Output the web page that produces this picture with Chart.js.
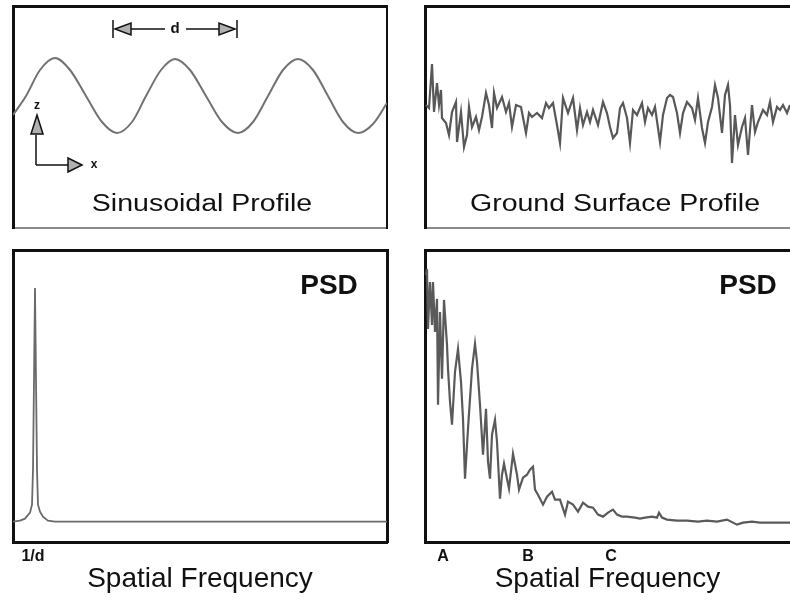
<!DOCTYPE html>
<html>
<head>
<meta charset="utf-8">
<script src="https://cdn.jsdelivr.net/npm/chart.js@4"></script>
<style>
  body { margin: 0; background: #fff; }
  #wrap { position: relative; width: 790px; height: 600px; overflow: hidden;
          font-family: "Liberation Sans", Arial, sans-serif; }
  #wrap canvas { position: absolute; left: 0; top: 0; }
  .lbl { position: absolute; white-space: nowrap; color: #111; line-height: 1; }
  .ttl { font-size: 23px; transform: translateX(-50%) scaleX(1.24); }
  .psd { font-size: 28px; font-weight: bold; transform: translateX(-50%); }
</style>
</head>
<body>
<div id="wrap">
  <canvas id="sine" width="790" height="600"></canvas>
  <canvas id="rough" width="790" height="600"></canvas>
  <canvas id="sinePsd" width="790" height="600"></canvas>
  <canvas id="roughPsd" width="790" height="600"></canvas>
  <div class="lbl ttl" style="left:202px;top:192px">Sinusoidal Profile</div>
  <div class="lbl ttl" style="left:615px;top:192px">Ground Surface Profile</div>
  <div class="lbl psd" style="left:329px;top:271px">PSD</div>
  <div class="lbl psd" style="left:748px;top:271px">PSD</div>
</div>
<script>
// sinusoidal profile: distance along x, height z about the mean line
const sineX = [0, 13, 27, 42, 57, 73, 89, 104, 119, 133, 148, 162, 177, 193, 209, 225, 240, 255, 270, 285, 300, 315, 330, 345, 360, 374];
const sineZ = [-19, 0, 26, 38, 26, 0, -26, -37, -26, 0, 26, 37, 26, 0, -26, -37, -26, 0, 26, 37, 26, 0, -26, -37, -28, -7];

// ground surface profile
const roughX = [1, 4, 7, 9, 12, 14, 16, 17, 21, 24, 27, 31, 32, 36, 39, 42, 44, 47, 51, 54, 57, 61, 64, 67, 69, 72, 77, 81, 84, 87, 91, 96, 101, 104, 107, 112, 117, 121, 124,
  128, 132, 135, 138, 143, 148, 152, 155, 158, 162, 165, 168, 173, 178, 182, 185, 188, 192, 195, 198, 202, 205, 208, 212, 217, 220, 223, 227, 230, 235, 238, 242, 245,
  248, 252, 255, 258, 262, 267, 270, 273, 277, 280, 283, 287, 290, 293, 297, 300, 303, 305, 307, 310, 313, 317, 320, 323, 327, 330, 333, 338, 342, 345, 348, 352, 355, 358, 362, 365];
const roughZ = [5, 2, 46, -2, 27, 5, 20, -8, -13, -25, -2, 8, -32, -2, -37, -25, 3, -17, -7, -20, -7, 17, 5, -18, 17, 2, 13, -2, 7, -17, 5, 3, -23, -3, -7, -3, -8, 7, 2,
  7, -15, -33, 12, -3, 12, -20, 2, -15, -2, -12, 0, -15, 8, -3, -17, -28, -23, 2, 7, -8, -33, 0, -5, 7, -12, 2, -5, 3, -32, -5, 12, 15,
  13, -3, -23, -3, 8, 2, -10, 12, -18, -33, -12, 3, 25, 12, -23, 15, 25, 5, -53, -5, -35, -17, -8, -45, 5, -22, -12, 0, -5, 8, -12, 3, 0, 5, -3, 5];

// PSD of the sinusoid: spatial frequency vs power
const sinePsdX = [0, 7, 12, 17, 19, 20, 21, 22, 23, 24, 25, 27, 30, 35, 42, 374];
const sinePsdY = [21, 22, 24, 30, 38, 73, 163, 255, 163, 73, 38, 31, 26, 22, 21, 21];
const sinePsdTicks = [20];
const sinePsdTickLabels = ['1/d'];

// PSD of the ground surface
const roughPsdX = [1, 2, 3, 5, 7, 8, 10, 12, 13, 15, 17, 19, 22, 23, 25, 27, 30, 33, 36, 38, 40, 43, 47, 50, 52, 55, 58, 61, 63, 65, 67, 70, 72, 75, 77, 79, 82, 84,
  88, 92, 94, 95, 98, 102, 105, 108, 110, 113, 118, 122, 127, 130, 135, 140, 143, 148, 153, 158, 163, 168, 173, 178, 183, 188, 192, 197, 202,
  210, 215, 220, 227, 232, 234, 237, 242, 252, 262, 273, 282, 292, 302, 312, 318, 327, 335, 365];
const roughPsdY = [268, 274, 214, 261, 218, 261, 211, 244, 138, 231, 164, 243, 198, 174, 141, 118, 171, 194, 161, 124, 64, 114, 174, 199, 181, 138, 88, 134, 81, 64, 108, 123, 101, 44, 68, 79, 64, 54,
  89, 68, 53, 56, 65, 68, 73, 76, 53, 48, 38, 46, 51, 43, 43, 28, 41, 38, 31, 40, 36, 35, 28, 26, 30, 33, 28, 26, 26,
  25, 24, 25, 26, 25, 30, 25, 23, 22, 22, 21, 22, 21, 23, 18, 20, 21, 20, 20];
const roughPsdTicks = [18, 103, 186];
const roughPsdTickLabels = ['A', 'B', 'C'];

// dimension arrow "d" and the z/x axis glyph on the sinusoid panel
const dimFrom = 100, dimTo = 224, dimLevel = 67;
const glyphX = 23, glyphZ = -69;

const FONT = '"Liberation Sans", Arial, sans-serif';
Chart.defaults.font.family = FONT;
Chart.defaults.animation = false;

function pts(xs, ys) {
  return xs.map((v, i) => ({ x: v, y: ys[i] }));
}

function edge(color, width, pos, extra) {
  return Object.assign({
    type: 'linear', position: pos,
    grid: { display: false, drawTicks: false },
    ticks: { display: false },
    border: { display: width > 0, color: color, width: width || 1 }
  }, extra || {});
}

function arrowHead(ctx, tx, ty, dir, len, half) {
  ctx.beginPath();
  if (dir === 'left') { ctx.moveTo(tx, ty); ctx.lineTo(tx + len, ty - half); ctx.lineTo(tx + len, ty + half); }
  if (dir === 'right') { ctx.moveTo(tx, ty); ctx.lineTo(tx - len, ty - half); ctx.lineTo(tx - len, ty + half); }
  if (dir === 'up') { ctx.moveTo(tx, ty); ctx.lineTo(tx - half, ty + len); ctx.lineTo(tx + half, ty + len); }
  ctx.closePath();
  ctx.fill();
  ctx.stroke();
}

const profileMarks = {
  id: 'profileMarks',
  afterDatasetsDraw(chart) {
    const { ctx, scales: { x, y } } = chart;
    ctx.save();
    ctx.strokeStyle = '#111';
    ctx.fillStyle = '#b0b0b0';
    ctx.lineWidth = 1.5;
    // d
    const yd = y.getPixelForValue(dimLevel);
    const xa = x.getPixelForValue(dimFrom), xb = x.getPixelForValue(dimTo);
    const xm = (xa + xb) / 2;
    ctx.beginPath();
    ctx.moveTo(xa, yd - 9); ctx.lineTo(xa, yd + 9);
    ctx.moveTo(xb, yd - 9); ctx.lineTo(xb, yd + 9);
    ctx.moveTo(xa + 18, yd); ctx.lineTo(xm - 10, yd);
    ctx.moveTo(xm + 11, yd); ctx.lineTo(xb - 18, yd);
    ctx.stroke();
    arrowHead(ctx, xa + 2, yd, 'left', 16, 6);
    arrowHead(ctx, xb - 2, yd, 'right', 16, 6);
    ctx.fillStyle = '#111';
    ctx.font = 'bold 15px ' + FONT;
    ctx.textAlign = 'center';
    ctx.textBaseline = 'middle';
    ctx.fillText('d', xm, yd);
    // z / x
    const gx = x.getPixelForValue(glyphX), gy = y.getPixelForValue(glyphZ);
    ctx.fillStyle = '#b0b0b0';
    ctx.beginPath();
    ctx.moveTo(gx, gy); ctx.lineTo(gx, gy - 30);
    ctx.moveTo(gx, gy); ctx.lineTo(gx + 32, gy);
    ctx.stroke();
    arrowHead(ctx, gx + 1, gy - 50, 'up', 19, 6);
    arrowHead(ctx, gx + 46, gy, 'right', 14, 7);
    ctx.fillStyle = '#111';
    ctx.font = 'bold 12px ' + FONT;
    ctx.fillText('z', gx + 1, gy - 59);
    ctx.fillText('x', gx + 58, gy);
    ctx.restore();
  }
};

function panel(id, data, opts) {
  return new Chart(document.getElementById(id), {
    type: 'line',
    data: {
      datasets: [{
        data: data,
        borderColor: opts.color,
        borderWidth: opts.width,
        pointRadius: 0,
        fill: false,
        cubicInterpolationMode: opts.smooth ? 'monotone' : 'default',
        tension: 0
      }]
    },
    options: {
      responsive: false,
      events: [],
      layout: { padding: opts.padding, autoPadding: false },
      plugins: { legend: { display: false }, tooltip: { enabled: false } },
      scales: {
        x: opts.xScale,
        y: edge('#111', 3, 'left', { min: opts.yMin, max: opts.yMax }),
        x2: edge('#111', 3, 'top'),
        y2: edge('#111', opts.right, 'right')
      }
    },
    plugins: opts.plugins || []
  });
}

function freqAxis(ticks, labels, max) {
  return {
    type: 'linear', position: 'bottom', min: 0, max: max,
    grid: { display: false, drawTicks: false },
    border: { display: true, color: '#111', width: 3 },
    afterBuildTicks: s => { s.ticks = ticks.map(v => ({ value: v })); },
    ticks: {
      display: true, autoSkip: false, maxRotation: 0, padding: 3,
      color: '#111', font: { size: 16, weight: 'bold', lineHeight: 1.4 },
      callback: (v, i) => labels[i]
    },
    title: {
      display: true, text: 'Spatial Frequency', color: '#111',
      font: { size: 28, lineHeight: 1 }, padding: { top: -6, bottom: 0 }
    }
  };
}

panel('sine', pts(sineX, sineZ), {
  color: '#727272', width: 2, smooth: true,
  padding: { left: 13, top: 6, right: 403, bottom: 372 },
  xScale: edge('#8a8a8a', 2, 'bottom', { min: 0, max: 374 }),
  yMin: -132, yMax: 90, right: 2,
  plugins: [profileMarks]
});

panel('rough', pts(roughX, roughZ), {
  color: '#585858', width: 2.2,
  padding: { left: 425, top: 6, right: 0, bottom: 372 },
  xScale: edge('#8a8a8a', 2, 'bottom', { min: 0, max: 365 }),
  yMin: -118, yMax: 104, right: 0
});

panel('sinePsd', pts(sinePsdX, sinePsdY), {
  color: '#6a6a6a', width: 1.8,
  padding: { left: 13, top: 250, right: 403, bottom: 7 },
  xScale: freqAxis(sinePsdTicks, sinePsdTickLabels, 374),
  yMin: 0, yMax: 293, right: 3
});

panel('roughPsd', pts(roughPsdX, roughPsdY), {
  color: '#5a5a5a', width: 2.2,
  padding: { left: 425, top: 250, right: 0, bottom: 7 },
  xScale: freqAxis(roughPsdTicks, roughPsdTickLabels, 365),
  yMin: 0, yMax: 293, right: 0
});
</script>
</body>
</html>
